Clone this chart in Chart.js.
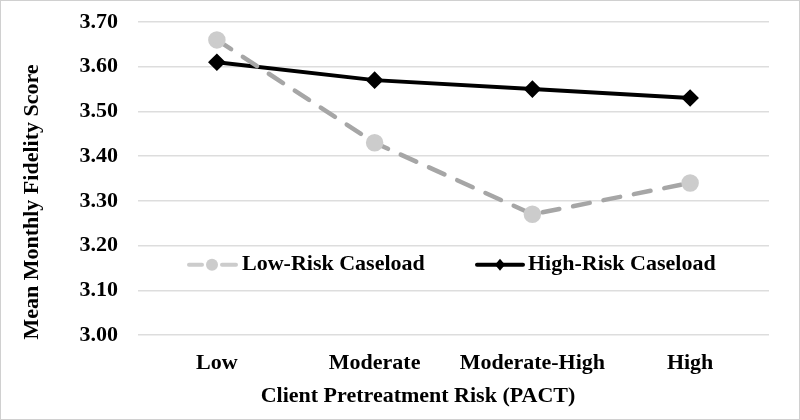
<!DOCTYPE html>
<html>
<head>
<meta charset="utf-8">
<script src="https://cdn.jsdelivr.net/npm/chart.js@4.4.1/dist/chart.umd.min.js"></script>
<style>
  html, body { margin: 0; padding: 0; background: #fff; }
  #wrap { width: 800px; height: 420px; position: relative; box-sizing: border-box; border: 1px solid #d0d0d0; }
</style>
</head>
<body>
<div id="wrap"><canvas id="c" width="798" height="418"></canvas></div>
<script>
// categories + series
var riskLevels = ['Low', 'Moderate', 'Moderate-High', 'High'];
var lowRiskCaseload = [3.66, 3.43, 3.27, 3.34];
var highRiskCaseload = [3.61, 3.57, 3.55, 3.53];
var yTicks = [3.00, 3.10, 3.20, 3.30, 3.40, 3.50, 3.60, 3.70];
var xTitle = 'Client Pretreatment Risk (PACT)';
var yTitle = 'Mean Monthly Fidelity Score';

var SERIF = '"Liberation Serif", "Times New Roman", serif';

// legend sits inside the plot and axis titles are off-centre, so draw those ourselves
var extras = {
    id: 'extras',
    afterDraw: function(chart) {
        var ctx = chart.ctx;
        var y = chart.scales.y.getPixelForValue(3.157);
        ctx.save();
        ctx.font = 'bold 22px ' + SERIF;
        ctx.textBaseline = 'middle';

        // low-risk entry
        var x0 = 186;
        ctx.lineWidth = 4;
        ctx.lineCap = 'round';
        ctx.strokeStyle = '#cccccc';
        ctx.beginPath(); ctx.moveTo(x0 + 2, y); ctx.lineTo(x0 + 15, y); ctx.stroke();
        ctx.beginPath(); ctx.moveTo(x0 + 35, y); ctx.lineTo(x0 + 49, y); ctx.stroke();
        ctx.fillStyle = '#cccccc';
        ctx.beginPath(); ctx.arc(x0 + 25, y, 6, 0, Math.PI * 2); ctx.fill();
        ctx.fillStyle = '#000';
        ctx.fillText('Low-Risk Caseload', x0 + 55, y);

        // high-risk entry
        var x1 = 474;
        ctx.strokeStyle = '#000';
        ctx.beginPath(); ctx.moveTo(x1 + 2, y); ctx.lineTo(x1 + 48, y); ctx.stroke();
        ctx.beginPath();
        ctx.moveTo(x1 + 25, y - 6); ctx.lineTo(x1 + 30, y); ctx.lineTo(x1 + 25, y + 6); ctx.lineTo(x1 + 20, y);
        ctx.closePath(); ctx.fill();
        ctx.fillText('High-Risk Caseload', x1 + 53, y);

        // axis titles
        ctx.textAlign = 'center';
        ctx.fillText(xTitle, 417, chart.chartArea.bottom + 61);
        ctx.translate(31, 201);
        ctx.rotate(-Math.PI / 2);
        ctx.fillText(yTitle, 0, 0);
        ctx.restore();
    }
};

new Chart(document.getElementById('c'), {
    type: 'line',
    data: {
        labels: riskLevels,
        datasets: [
            {
                label: 'Low-Risk Caseload',
                data: lowRiskCaseload,
                borderColor: '#a6a6a6',
                borderWidth: 4.5,
                borderDash: [17, 14],
                borderCapStyle: 'round',
                pointStyle: 'circle',
                pointRadius: 6.5,
                pointBackgroundColor: '#cccccc',
                pointBorderColor: '#cccccc',
                tension: 0
            },
            {
                label: 'High-Risk Caseload',
                data: highRiskCaseload,
                borderColor: '#000',
                borderWidth: 4,
                pointStyle: 'rectRot',
                pointRadius: 6,
                pointBackgroundColor: '#000',
                pointBorderColor: '#000',
                tension: 0
            }
        ]
    },
    options: {
        responsive: false,
        animation: false,
        layout: { padding: { top: 21, right: 30, bottom: 0, left: 0 } },
        plugins: { legend: { display: false }, tooltip: { enabled: false } },
        scales: {
            x: {
                offset: true,
                afterFit: function(s) { s.height = 84; s.paddingLeft = 0; s.paddingRight = 0; },
                grid: { display: false },
                border: { display: false },
                ticks: { color: '#000', font: { family: SERIF, size: 22, weight: 'bold' }, padding: 7, maxRotation: 0 }
            },
            y: {
                min: 3.0,
                max: 3.7,
                afterFit: function(s) { s.width = 137; s.paddingTop = 0; s.paddingBottom = 0; },
                afterBuildTicks: function(s) { s.ticks = yTicks.map(function(v) { return { value: v }; }); },
                grid: { color: '#dddddd', lineWidth: 1.5, drawTicks: false },
                border: { display: false },
                ticks: {
                    color: '#000', padding: 20,
                    font: { family: SERIF, size: 22, weight: 'bold' },
                    callback: function(v) { return Number(v).toFixed(2); }
                }
            }
        }
    },
    plugins: [extras]
});
</script>
</body>
</html>
